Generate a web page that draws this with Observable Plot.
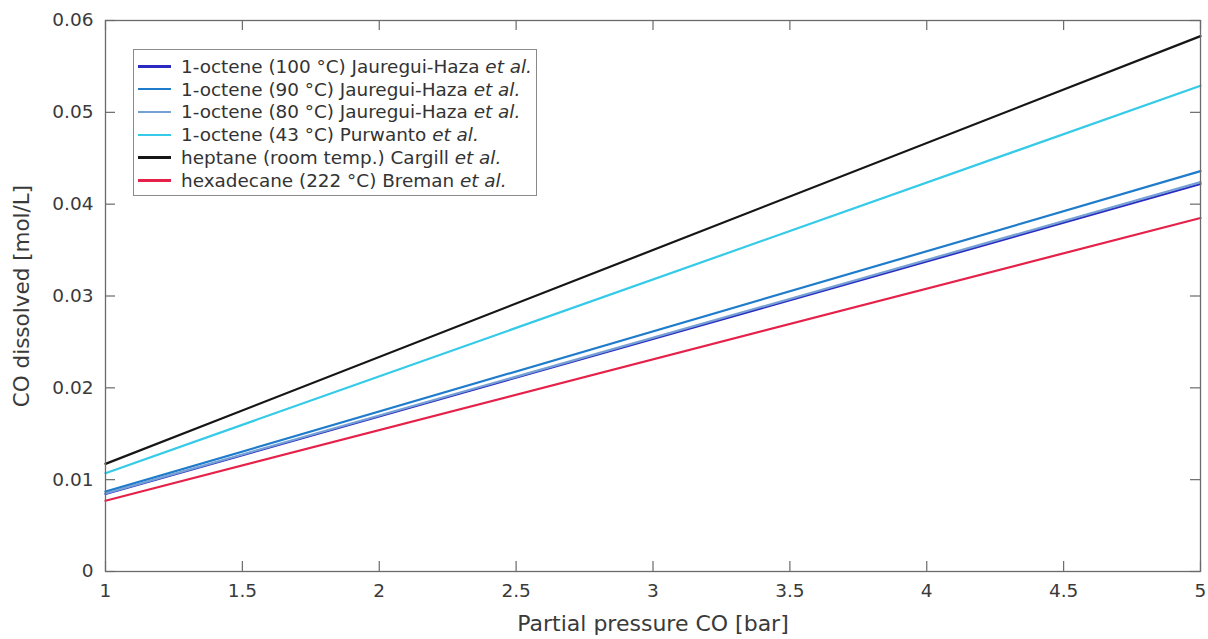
<!DOCTYPE html>
<html>
<head>
<meta charset="utf-8">
<script src="https://cdn.jsdelivr.net/npm/d3@7"></script>
<script src="https://cdn.jsdelivr.net/npm/@observablehq/plot@0.6"></script>
<style>
  html, body { margin: 0; padding: 0; background: #fff; }
  #wrap { position: relative; width: 1208px; height: 639px; font-family: "DejaVu Sans", sans-serif; }
  #legend { position: absolute; left: 133px; top: 49px; width: 404px; height: 147px; border: 1px solid #8a8a8a; background: #fff; box-sizing: border-box; padding-top: 5px; }
  .row { height: 22.8px; display: flex; align-items: center; font-size: 18.4px; color: #333; white-space: nowrap; }
  .sw { width: 33px; height: 2.5px; margin-left: 4px; margin-right: 10px; flex: none; }
</style>
</head>
<body>
<div id="wrap"><div id="chart"></div><div id="legend"></div></div>
<script>
// ---- data ----
const pressures = [1, 5];
const seriesNames = [
  "1-octene (100 °C) Jauregui-Haza",
  "1-octene (90 °C) Jauregui-Haza",
  "1-octene (80 °C) Jauregui-Haza",
  "1-octene (43 °C) Purwanto",
  "heptane (room temp.) Cargill",
  "hexadecane (222 °C) Breman"
];
const octene100 = [0.00845, 0.0422];
const octene90 = [0.0087, 0.0436];
const octene80 = [0.0085, 0.0424];
const octene43 = [0.0107, 0.0529];
const heptane = [0.01172, 0.0583];
const hexadecane = [0.0077, 0.0385];
const seriesColors = ["#2a2ac0", "#1f7ccb", "#74a0d6", "#35cbe8", "#161616", "#e5214a"];
const xTicks = [1, 1.5, 2, 2.5, 3, 3.5, 4, 4.5, 5];
const xTickLabels = ["1", "1.5", "2", "2.5", "3", "3.5", "4", "4.5", "5"];
const yTicks = [0, 0.01, 0.02, 0.03, 0.04, 0.05, 0.06];
const yTickLabels = ["0", "0.01", "0.02", "0.03", "0.04", "0.05", "0.06"];
const xLabel = "Partial pressure CO [bar]";
const yLabel = "CO dissolved [mol/L]";

const allValues = [octene100, octene90, octene80, octene43, heptane, hexadecane];
const rows = [];
allValues.forEach((vals, i) => {
  vals.forEach((v, j) => rows.push({series: seriesNames[i], p: pressures[j], c: v}));
});

const W = 1208, H = 639;
const mL = 105, mR = 8, mT = 20, mB = 68;
const xDom = [1, 5], yDom = [0, 0.06];
const tickPx = 10;
const tlx = (xDom[1] - xDom[0]) * tickPx / (W - mL - mR);
const tly = (yDom[1] - yDom[0]) * tickPx / (H - mT - mB);
const axisColor = "#6a6a6a";
const textColor = "#3a3a3a";

const chart = Plot.plot({
  width: W, height: H,
  marginLeft: mL, marginRight: mR, marginTop: mT, marginBottom: mB,
  style: {fontFamily: "DejaVu Sans, sans-serif", background: "#fff"},
  x: {domain: xDom},
  y: {domain: yDom},
  color: {domain: seriesNames, range: seriesColors},
  marks: [
    Plot.line(rows, {x: "p", y: "c", z: "series", stroke: "series", strokeWidth: 2.2}),
    Plot.ruleX(xTicks, {x: d => d, y1: yDom[0], y2: yDom[0] + tly, stroke: axisColor, strokeWidth: 1.2}),
    Plot.ruleX(xTicks, {x: d => d, y1: yDom[1] - tly, y2: yDom[1], stroke: axisColor, strokeWidth: 1.2}),
    Plot.ruleY(yTicks, {y: d => d, x1: xDom[0], x2: xDom[0] + tlx, stroke: axisColor, strokeWidth: 1.2}),
    Plot.ruleY(yTicks, {y: d => d, x1: xDom[1] - tlx, x2: xDom[1], stroke: axisColor, strokeWidth: 1.2}),
    Plot.frame({stroke: axisColor, strokeWidth: 1.3}),
    Plot.axisX({ticks: xTicks, tickFormat: (d, i) => xTickLabels[i], tickSize: 0, tickPadding: 12, fontSize: 18.5, color: textColor, label: null}),
    Plot.axisY({ticks: yTicks, tickFormat: (d, i) => yTickLabels[i], tickSize: 0, tickPadding: 12, fontSize: 18.5, color: textColor, label: null}),
    Plot.text([xLabel], {text: d => d, frameAnchor: "bottom", dy: 59, fontSize: 22, fill: textColor}),
    Plot.text([yLabel], {text: d => d, frameAnchor: "left", textAnchor: "middle", dx: -83, rotate: -90, fontSize: 21.5, fill: textColor})
  ]
});
document.getElementById("chart").appendChild(chart);

const legend = document.getElementById("legend");
seriesNames.forEach((name, i) => {
  const row = document.createElement("div");
  row.className = "row";
  const sw = document.createElement("div");
  sw.className = "sw";
  sw.style.background = seriesColors[i];
  row.appendChild(sw);
  const t = document.createElement("span");
  t.innerHTML = name + " <i>et al.</i>";
  row.appendChild(t);
  legend.appendChild(row);
});
</script>
</body>
</html>
